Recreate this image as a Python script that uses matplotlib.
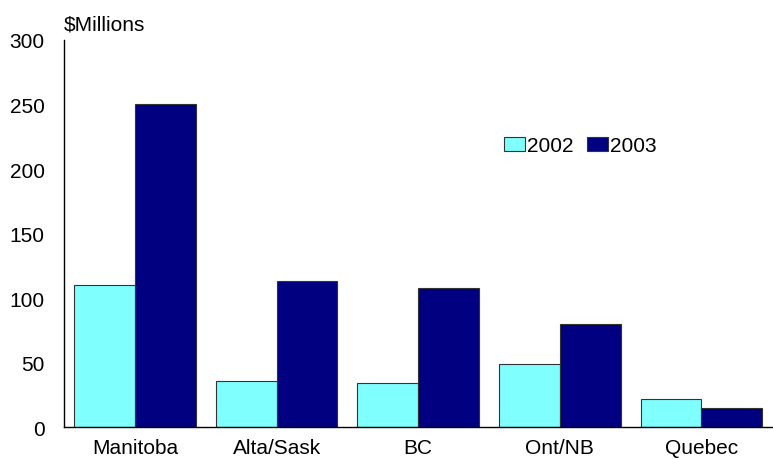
import matplotlib.pyplot as plt
import numpy as np

plt.rcParams['font.family'] = ['Liberation Sans', 'DejaVu Sans']

regions = ["Manitoba", "Alta/Sask", "BC", "Ont/NB", "Quebec"]
vals_2002 = [110, 36, 34, 49, 22]
vals_2003 = [250, 113, 108, 80, 15]

fig = plt.figure(figsize=(7.73, 4.60), dpi=100)
ax = fig.add_axes([0.083, 0.069, 0.916, 0.842])

x = np.arange(len(regions))
w = 0.43
ax.bar(x - w / 2, vals_2002, w, color="#80FFFF", edgecolor="#333333", linewidth=0.8, label="2002")
ax.bar(x + w / 2, vals_2003, w, color="#000080", edgecolor="#333333", linewidth=0.8, label="2003")

ax.set_xlim(-0.5, len(regions) - 0.5)
ax.set_ylim(0, 300)
ax.set_yticks(range(0, 301, 50))
ax.set_xticks(x)
ax.set_xticklabels(regions)
ax.tick_params(axis="both", length=0, labelsize=15)
ax.tick_params(axis="y", pad=14)
ax.tick_params(axis="x", pad=8)
for s in ["top", "right"]:
    ax.spines[s].set_visible(False)
for s in ["left", "bottom"]:
    ax.spines[s].set_linewidth(1.0)

fig.text(0.083, 0.945, "$Millions", fontsize=15, ha="left", va="center")

ax.legend(loc="center left", bbox_to_anchor=(0.607, 0.727), frameon=False, fontsize=15,
          ncol=2, handlelength=1.0, handleheight=0.7, handletextpad=0.1, columnspacing=0.65,
          borderpad=0)

fig.savefig("out.png")
